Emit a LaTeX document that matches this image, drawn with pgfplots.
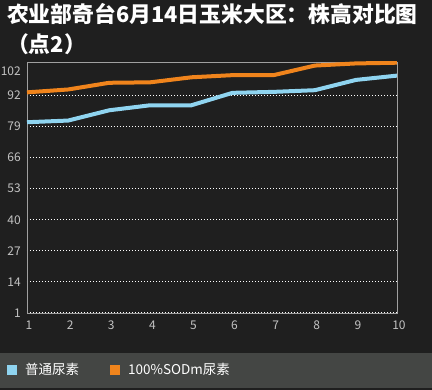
\documentclass[border=0pt]{standalone}
\usepackage{fontspec}
\setmainfont{Noto Sans CJK SC}
\usepackage{pgfplots}
\pgfplotsset{compat=1.18}
\definecolor{bg}{RGB}{31,31,31}
\definecolor{band}{RGB}{68,70,68}
\definecolor{sky}{RGB}{143,212,240}
\definecolor{org}{RGB}{240,132,28}
\definecolor{ticktxt}{RGB}{195,195,195}
\definecolor{axline}{RGB}{160,160,160}
\begin{document}
\begin{tikzpicture}
\useasboundingbox (0pt,0pt) rectangle (432pt,390pt);
\fill[bg] (0pt,0pt) rectangle (432pt,390pt);
\fill[band] (0pt,2pt) rectangle (432pt,37pt);
\node[anchor=west, text=white, font=\bfseries\fontsize{21.8}{24}\selectfont, inner sep=0pt] at (7pt,376pt) {农业部奇台6月14日玉米大区：株高对比图};
\node[anchor=west, text=white, font=\bfseries\fontsize{21.8}{24}\selectfont, inner sep=0pt] at (7pt,346pt) {（点2）};
\begin{axis}[
  at={(27pt,77pt)}, anchor=south west,
  scale only axis, width=370pt, height=251pt,
  xmin=1, xmax=10, ymin=1, ymax=106,
  xtick={1,...,10},
  ytick={1,14,27,40,53,66,79,92},
  extra y ticks={102},
  extra y tick style={grid=none},
  ymajorgrids,
  grid style={white, line width=1pt, dash pattern=on 1pt off 2pt},
  axis line style={draw=axline, line width=0.8pt},
  major tick style={draw=none},
  tick label style={text=ticktxt, font=\fontsize{12}{14}\selectfont},
  yticklabel style={anchor=east, inner sep=0pt, xshift=-6pt},
  xticklabel style={yshift=-4pt, xshift=2pt},
  /pgf/number format/assume math mode=true,
  legend style={at={(-0.054,-0.227)}, anchor=west, draw=none, fill=none,
    inner sep=0pt, legend columns=2,
    nodes={inner sep=0pt, text=white, font=\fontsize{13.5}{15}\selectfont},
    /tikz/every odd column/.append style={column sep=8pt},
    /tikz/every even column/.append style={column sep=31pt}},
  legend image code/.code={\fill[#1, draw=none] (0pt,-5pt) rectangle (10pt,5pt);},
]
\addplot[sky, line width=4pt] coordinates {
(1,80.8) (2,81.5) (3,85.8) (4,87.9) (5,87.9) (6,93.1) (7,93.5) (8,94.2) (9,98.5) (10,100.3)};
\addlegendentry{普通尿素}
\addplot[org, line width=4pt] coordinates {
(1,93.3) (2,94.5) (3,97.3) (4,97.5) (5,99.6) (6,100.5) (7,100.5) (8,104.5) (9,105.4) (10,105.7)};
\addlegendentry{100\%SODm尿素}
\end{axis}
\end{tikzpicture}
\end{document}
